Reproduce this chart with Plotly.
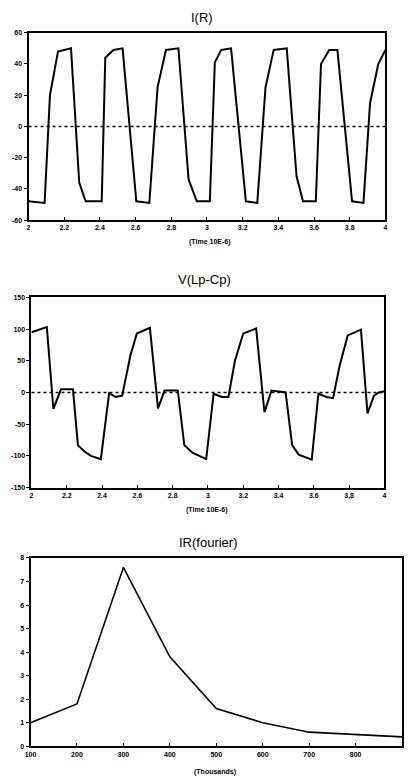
import plotly.graph_objects as go

# ---- Data ----
t_ir = [2.0, 2.09, 2.12, 2.165, 2.238, 2.284, 2.32, 2.41, 2.43, 2.476, 2.527, 2.604, 2.677,
        2.723, 2.77, 2.84, 2.897, 2.943, 3.016, 3.044, 3.08, 3.135, 3.218, 3.282, 3.328,
        3.374, 3.447, 3.502, 3.538, 3.61, 3.639, 3.685, 3.731, 3.813, 3.877, 3.914, 3.96, 4.0]
i_r = [-48, -49, 20, 48, 50, -36, -48, -48, 44, 49, 50, -48, -49,
       25, 49, 50, -34, -48, -48, 41, 49, 50, -48, -49, 25,
       49, 50, -32, -48, -48, 40, 49, 49, -48, -49, 15, 40, 49]

t_v = [2.0, 2.087, 2.124, 2.167, 2.235, 2.263, 2.3, 2.337, 2.393, 2.44, 2.476, 2.514, 2.56,
       2.597, 2.671, 2.717, 2.754, 2.829, 2.866, 2.912, 2.99, 3.032, 3.079, 3.116, 3.153,
       3.2, 3.273, 3.32, 3.36, 3.44, 3.477, 3.514, 3.588, 3.626, 3.672, 3.709, 3.746,
       3.792, 3.867, 3.904, 3.941, 3.968, 4.0]
v_lpcp = [95, 103, -26, 5, 5, -83, -93, -100, -105, -1, -7, -5, 58,
          93, 102, -25, 3, 3, -83, -95, -105, -2, -7, -7, 50,
          93, 101, -31, 3, 0, -83, -98, -106, -2, -7, -9, 42,
          90, 99, -33, -5, 0, 2]

f_khz = [100, 200, 300, 400, 500, 600, 700, 800, 900]
ir_fourier = [1.0, 1.8, 7.6, 3.8, 1.6, 1.0, 0.6, 0.5, 0.4]

ticks_top = [2, 2.2, 2.4, 2.6, 2.8, 3, 3.2, 3.4, 3.6, 3.8, 4]
tick_text_top = ["2", "2.2", "2.4", "2.6", "2.8", "3", "3.2", "3.4", "3.6", "3.8", "4"]
ticks_ir = [-60, -40, -20, 0, 20, 40, 60]
ticks_v = [-150, -100, -50, 0, 50, 100, 150]
ticks_f = [100, 200, 300, 400, 500, 600, 700, 800, 900]
ticks_fy = [0, 1, 2, 3, 4, 5, 6, 7, 8]

titles = ["I(R)", "V(Lp-Cp)", "IR(fourier)"]
xtitles = ["(Time 10E-6)", "(Time 10E-6)", "(Thousands)"]

W, H = 408, 781
FONT = "Liberation Sans, Arial, sans-serif"

fig = go.Figure()
line = dict(color="black", width=2)
fig.add_trace(go.Scatter(x=t_ir, y=i_r, mode="lines", line=line, xaxis="x", yaxis="y"))
fig.add_trace(go.Scatter(x=t_v, y=v_lpcp, mode="lines", line=line, xaxis="x2", yaxis="y2"))
fig.add_trace(go.Scatter(x=f_khz, y=ir_fourier, mode="lines",
                         line=dict(color="black", width=1.6), xaxis="x3", yaxis="y3"))

def px_x(a, b):
    return [a / W, b / W]

def px_y(top, bot):
    return [1 - bot / H, 1 - top / H]

def bold(labels):
    return ["<b>" + str(s) + "</b>" for s in labels]

tickfont = dict(family=FONT, size=7, color="black")
common_ax = dict(showline=True, linecolor="black", linewidth=2, mirror=True,
                 showgrid=False, zeroline=False, tickfont=tickfont,
                 ticklen=3, tickwidth=1, tickcolor="black")

layout = dict(width=W, height=H, margin=dict(l=0, r=0, t=0, b=0),
              paper_bgcolor="white", plot_bgcolor="white", showlegend=False,
              font=dict(family=FONT, color="black"))

specs = [
    (px_x(23, 387), px_y(29, 218), [2, 4], [-60, 60], ticks_top, tick_text_top, ticks_ir, ticks_ir),
    (px_x(26, 386), px_y(296, 488), [2, 4], [-150, 150], ticks_top, tick_text_top, ticks_v, ticks_v),
    (px_x(25, 404), px_y(559, 749), [100, 900], [0, 8], ticks_f, ticks_f, ticks_fy, ticks_fy),
]
for i, (xd, yd, xr, yr, xt, xtt, yt, ytt) in enumerate(specs):
    sfx = "" if i == 0 else str(i + 1)
    layout["xaxis" + sfx] = dict(common_ax, domain=xd, range=xr, tickvals=xt, ticktext=bold(xtt),
                                 ticks="inside", anchor="y" + sfx)
    layout["yaxis" + sfx] = dict(common_ax, domain=yd, range=yr, tickvals=yt, ticktext=bold(ytt),
                                 ticks="outside", anchor="x" + sfx)

fig.update_layout(**layout)

# dotted zero lines
for sfx in ["", "2"]:
    fig.add_shape(type="line", xref="x" + sfx + " domain", yref="y" + sfx, x0=0, x1=1, y0=0, y1=0,
                  line=dict(color="black", width=1.5, dash="dot"))

# titles
title_pos = [(200, 14), (202, 278), (207, 543)]
for txt, (x, y) in zip(titles, title_pos):
    fig.add_annotation(text=txt, x=x / W, y=1 - y / H, xref="paper", yref="paper",
                       showarrow=False, font=dict(family=FONT, size=13, color="black"),
                       xanchor="center", yanchor="middle")
xt_pos = [(208, 240), (205, 511), (213, 775)]
for txt, (x, y) in zip(xtitles, xt_pos):
    fig.add_annotation(text="<b>" + txt + "</b>", x=x / W, y=1 - y / H, xref="paper", yref="paper",
                       showarrow=False, font=dict(family=FONT, size=7, color="black"),
                       xanchor="center", yanchor="middle")

fig.write_html("out.html")
